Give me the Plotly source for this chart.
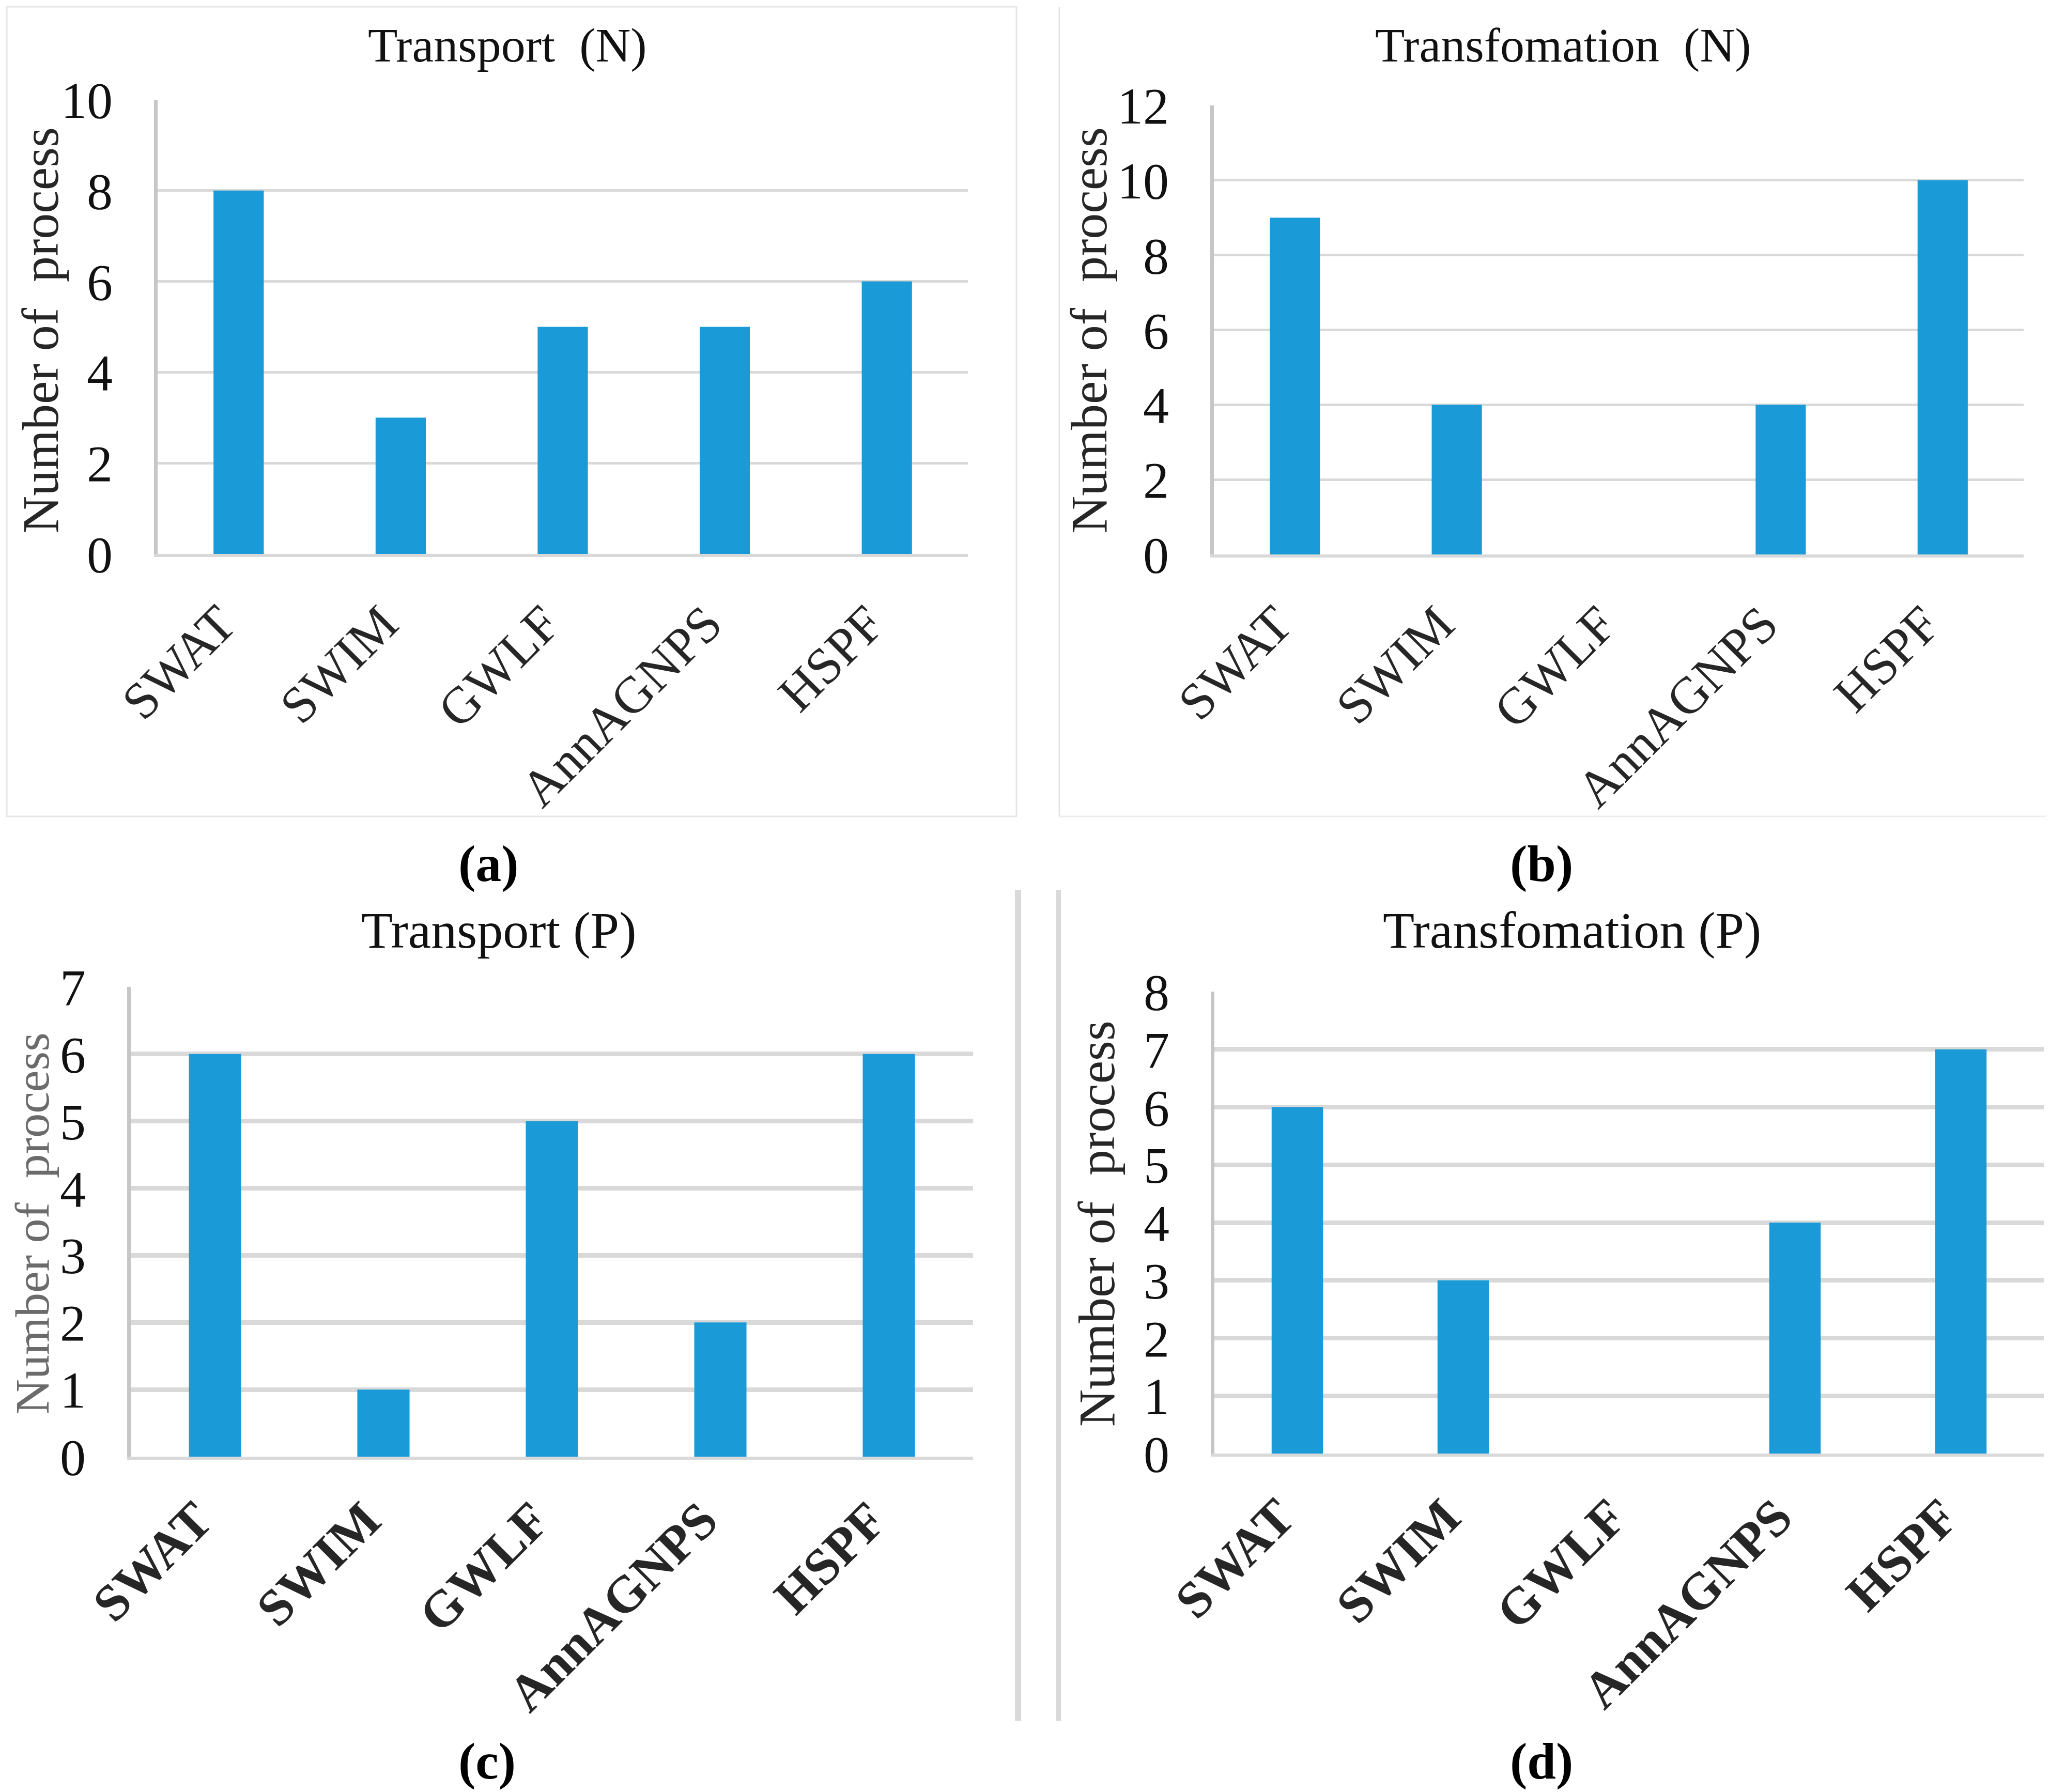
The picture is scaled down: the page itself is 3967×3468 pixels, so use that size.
import plotly.graph_objects as go

# ---------------- data ----------------
models = ["SWAT", "SWIM", "GWLF", "AnnAGNPS", "HSPF"]
transport_n = [8, 3, 5, 5, 6]
transformation_n = [9, 4, 0, 4, 10]
transport_p = [6, 1, 5, 2, 6]
transformation_p = [6, 3, 0, 4, 7]

titles = ["Transport\u00a0 (N)", "Transfomation\u00a0 (N)", "Transport (P)", "Transfomation (P)"]
panel_labels = ["(a)", "(b)", "(c)", "(d)"]
y_title = "Number of\u00a0 process"
y_max = [10, 12, 7, 8]
y_step = [2, 2, 1, 1]

# ---------------- layout constants (pixels, in screenshot coordinates) ----------------
W, H = 3967, 3468
OFF = 8  # default page body margin in the browser
FONT = "Liberation Serif"
BAR = "#1a9bd7"

def px(x):
    return (x - OFF) / W

def py(y):
    return 1 - (y - OFF) / H

# plot areas: (x0, x1, ytop, ybottom)
areas = [
    (305, 1873, 193, 1072),
    (2349, 3916, 204, 1073),
    (253, 1883, 1910, 2819),
    (2350, 3955, 1919, 2813),
]
title_pos = [(982, 87), (3025, 87), (965, 1801), (3042, 1801)]
title_size = [94, 94, 100, 100]
ytitle_pos = [(78, 639), (2107, 639), (62, 2368), (2122, 2368)]
ytitle_size = [100, 100, 94, 100]
ytitle_color = ["#262626", "#262626", "#6b6b6b", "#262626"]
label_pos = [(945, 1671), (2983, 1671), (942, 3466), (2983, 3466)]
label_anchor = ["middle", "middle", "bottom", "bottom"]
grid_w = [5, 5, 9, 9]
xlab_standoff = [30, 30, 18, 18]

series = [transport_n, transformation_n, transport_p, transformation_p]

fig = go.Figure()
annotations = []
for i in range(4):
    n = "" if i == 0 else str(i + 1)
    fig.add_trace(go.Bar(
        x=models, y=series[i], marker=dict(color=BAR, line=dict(width=0)),
        xaxis="x" + n, yaxis="y" + n, showlegend=False,
    ))
    x0, x1, yt, yb = areas[i]
    bold = i >= 2
    fig.update_layout(**{
        "xaxis" + n: dict(
            domain=[px(x0), px(x1)], anchor="y" + n, automargin=False,
            tickangle=-45, showline=True, linecolor="#d9d9d9", linewidth=6,
            showgrid=False, ticks="", ticklabelshift=-35, ticklabelstandoff=xlab_standoff[i],
            tickfont=dict(family=FONT, size=100, color="#262626",
                          weight="bold" if bold else "normal"),
        ),
        "yaxis" + n: dict(
            domain=[py(yb), py(yt)], anchor="x" + n, automargin=False,
            range=[0, y_max[i]], dtick=y_step[i], tick0=0,
            showline=True, linecolor="#c6c6c6", linewidth=7,
            showgrid=True, gridcolor="#d9d9d9", gridwidth=grid_w[i],
            zeroline=False, ticks="", ticklabelstandoff=60,
            tickfont=dict(family=FONT, size=100, color="#111111"),
        ),
    })
    tx, ty = title_pos[i]
    annotations.append(dict(text=titles[i], x=px(tx), y=py(ty), xref="paper", yref="paper",
                            xanchor="center", yanchor="middle", showarrow=False,
                            font=dict(family=FONT, size=title_size[i], color="#111111")))
    ax, ay = ytitle_pos[i]
    annotations.append(dict(text=y_title, x=px(ax), y=py(ay), xref="paper", yref="paper",
                            xanchor="center", yanchor="middle", showarrow=False, textangle=-90,
                            font=dict(family=FONT, size=ytitle_size[i], color=ytitle_color[i])))
    lx, ly = label_pos[i]
    annotations.append(dict(text="<b>" + panel_labels[i] + "</b>", x=px(lx), y=py(ly),
                            xref="paper", yref="paper", xanchor="center", yanchor=label_anchor[i],
                            showarrow=False, font=dict(family=FONT, size=100, color="#000000")))

shapes = [
    # panel (a) frame
    dict(type="rect", xref="paper", yref="paper", x0=px(13), x1=px(1967), y0=py(1580), y1=py(13),
         line=dict(color="#e6e6e6", width=3)),
    # panel (b) frame (left, bottom)
    dict(type="line", xref="paper", yref="paper", x0=px(2050), x1=px(2050), y0=py(1580), y1=py(13),
         line=dict(color="#e6e6e6", width=3)),
    dict(type="line", xref="paper", yref="paper", x0=px(2050), x1=px(3975), y0=py(1580), y1=py(1580),
         line=dict(color="#eeeeee", width=3)),
    # lower separators
    dict(type="line", xref="paper", yref="paper", x0=px(1970), x1=px(1970), y0=py(3330), y1=py(1722),
         line=dict(color="#d9d9d9", width=12)),
    dict(type="line", xref="paper", yref="paper", x0=px(2048), x1=px(2048), y0=py(3330), y1=py(1722),
         line=dict(color="#d9d9d9", width=10)),
]

fig.update_layout(
    template="none",
    width=W, height=H, margin=dict(l=0, r=0, t=0, b=0, pad=0), autosize=False,
    paper_bgcolor="white", plot_bgcolor="white",
    bargap=0.69, annotations=annotations, shapes=shapes,
    font=dict(family=FONT),
)

fig.write_html("out.html")
